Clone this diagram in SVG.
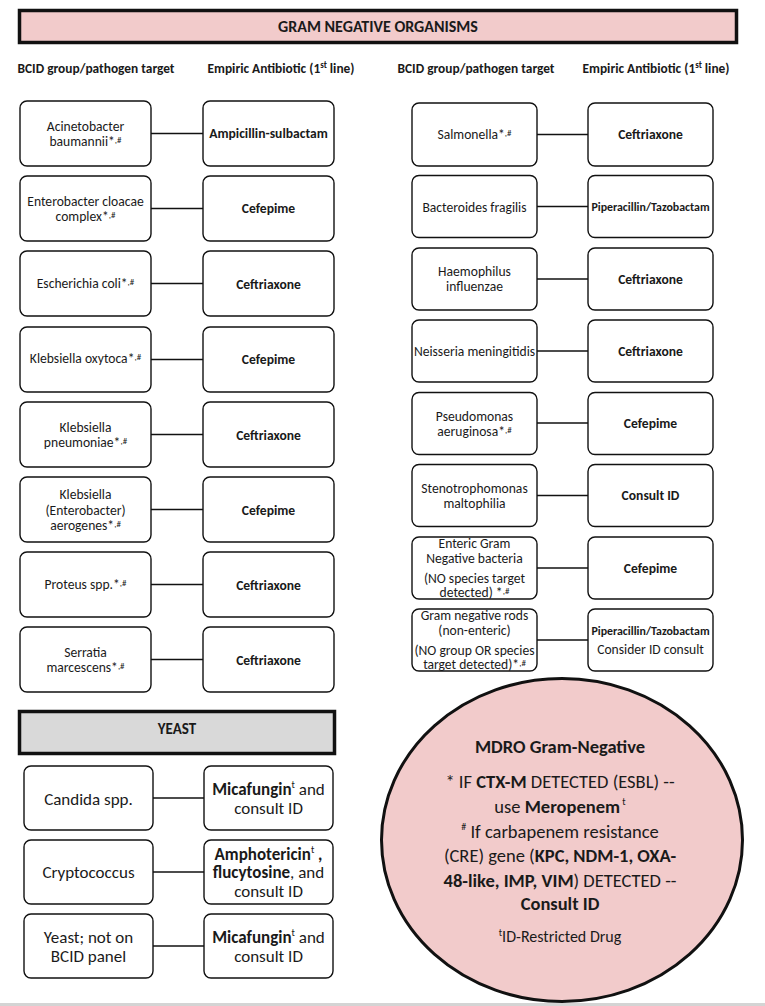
<svg xmlns="http://www.w3.org/2000/svg" width="765" height="1006" viewBox="0 0 765 1006">
<style>
text{font-family:Carlito,Lato,"Liberation Sans",sans-serif;fill:#1a1a1a;text-anchor:middle}
.n{fill:#fff;stroke:#111;stroke-width:1.4}
.t{font-size:13.6px}
.b{font-weight:bold}
.h{font-size:13.4px;font-weight:bold}
.y{font-size:17px}
.c{font-size:18.5px}
.s{font-size:9px}
.conn line{stroke:#111;stroke-width:1.4}
</style>
<rect x="0" y="0" width="765" height="1006" fill="#fff"/>
<rect x="0" y="1003" width="765" height="3" fill="#d4d4d4"/>

<g id="header">
<rect x="19.5" y="10.5" width="717" height="32" fill="#f2cbcb" stroke="#111" stroke-width="3.5"/>
<text x="378" y="32" class="b" font-size="16px">GRAM NEGATIVE ORGANISMS</text>
</g>
<g id="col-headers">
<text x="96" y="73" class="h">BCID group/pathogen target</text>
<text x="281" y="73" class="h">Empiric Antibiotic (1<tspan dy="-5" font-size="9">st</tspan><tspan dy="5"> line)</tspan></text>
<text x="476" y="73" class="h">BCID group/pathogen target</text>
<text x="656" y="73" class="h">Empiric Antibiotic (1<tspan dy="-5" font-size="9">st</tspan><tspan dy="5"> line)</tspan></text>
</g>

<g class="conn" id="connectors">
<line x1="151" y1="133.5" x2="203" y2="133.5"/>
<line x1="151" y1="208.5" x2="203" y2="208.5"/>
<line x1="151" y1="283.5" x2="203" y2="283.5"/>
<line x1="151" y1="359.5" x2="203" y2="359.5"/>
<line x1="151" y1="434.5" x2="203" y2="434.5"/>
<line x1="151" y1="509.5" x2="203" y2="509.5"/>
<line x1="151" y1="584.5" x2="203" y2="584.5"/>
<line x1="151" y1="659.5" x2="203" y2="659.5"/>
<line x1="537" y1="134.5" x2="588" y2="134.5"/>
<line x1="537" y1="206.5" x2="588" y2="206.5"/>
<line x1="537" y1="279" x2="588" y2="279"/>
<line x1="537" y1="351" x2="588" y2="351"/>
<line x1="537" y1="423" x2="588" y2="423"/>
<line x1="537" y1="495.5" x2="588" y2="495.5"/>
<line x1="537" y1="568" x2="588" y2="568"/>
<line x1="537" y1="640" x2="588" y2="640"/>
<line x1="153" y1="798" x2="204" y2="798"/>
<line x1="153" y1="872" x2="204" y2="872"/>
<line x1="153" y1="946" x2="204" y2="946"/>
</g>

<!-- Left column -->
<g id="acinetobacter"><rect class="n" x="20" y="101" width="131" height="65" rx="7"/>
<text class="t" x="85.5" y="130.5">Acinetobacter</text>
<text class="t" x="85.5" y="146">baumannii*<tspan class="s" dy="-3">,#</tspan></text></g>
<g id="amp-sulb"><rect class="n" x="203" y="101" width="131" height="65" rx="7"/>
<text class="t b" x="268.5" y="138">Ampicillin-sulbactam</text></g>

<g id="enterobacter"><rect class="n" x="20" y="176" width="131" height="65" rx="7"/>
<text class="t" x="85.5" y="205.5">Enterobacter cloacae</text>
<text class="t" x="85.5" y="221">complex*<tspan class="s" dy="-3">,#</tspan></text></g>
<g id="cefepime-1"><rect class="n" x="203" y="176" width="131" height="65" rx="7"/>
<text class="t b" x="268.5" y="213">Cefepime</text></g>

<g id="ecoli"><rect class="n" x="20" y="251" width="131" height="65" rx="7"/>
<text class="t" x="85.5" y="288">Escherichia coli*<tspan class="s" dy="-3">,#</tspan></text></g>
<g id="ceftriaxone-1"><rect class="n" x="203" y="251" width="131" height="65" rx="7"/>
<text class="t b" x="268.5" y="288.5">Ceftriaxone</text></g>

<g id="k-oxytoca"><rect class="n" x="20" y="327" width="131" height="65" rx="7"/>
<text class="t" x="85.5" y="363">Klebsiella oxytoca*<tspan class="s" dy="-3">,#</tspan></text></g>
<g id="cefepime-2"><rect class="n" x="203" y="327" width="131" height="65" rx="7"/>
<text class="t b" x="268.5" y="364">Cefepime</text></g>

<g id="k-pneumoniae"><rect class="n" x="20" y="402" width="131" height="65" rx="7"/>
<text class="t" x="85.5" y="431.5">Klebsiella</text>
<text class="t" x="85.5" y="447">pneumoniae*<tspan class="s" dy="-3">,#</tspan></text></g>
<g id="ceftriaxone-2"><rect class="n" x="203" y="402" width="131" height="65" rx="7"/>
<text class="t b" x="268.5" y="439.5">Ceftriaxone</text></g>

<g id="k-aerogenes"><rect class="n" x="20" y="477" width="131" height="65" rx="7"/>
<text class="t" x="85.5" y="498.5">Klebsiella</text>
<text class="t" x="85.5" y="514.5">(Enterobacter)</text>
<text class="t" x="85.5" y="530">aerogenes*<tspan class="s" dy="-3">,#</tspan></text></g>
<g id="cefepime-3"><rect class="n" x="203" y="477" width="131" height="65" rx="7"/>
<text class="t b" x="268.5" y="514.5">Cefepime</text></g>

<g id="proteus"><rect class="n" x="20" y="552" width="131" height="65" rx="7"/>
<text class="t" x="85.5" y="589">Proteus spp.*<tspan class="s" dy="-3">,#</tspan></text></g>
<g id="ceftriaxone-3"><rect class="n" x="203" y="552" width="131" height="65" rx="7"/>
<text class="t b" x="268.5" y="589.5">Ceftriaxone</text></g>

<g id="serratia"><rect class="n" x="20" y="627" width="131" height="65" rx="7"/>
<text class="t" x="85.5" y="656.5">Serratia</text>
<text class="t" x="85.5" y="671.5">marcescens*<tspan class="s" dy="-3">,#</tspan></text></g>
<g id="ceftriaxone-4"><rect class="n" x="203" y="627" width="131" height="65" rx="7"/>
<text class="t b" x="268.5" y="664.5">Ceftriaxone</text></g>

<!-- Right column -->
<g id="salmonella"><rect class="n" x="412" y="103" width="125" height="63" rx="7"/>
<text class="t" x="474.5" y="138.5">Salmonella*<tspan class="s" dy="-3">,#</tspan></text></g>
<g id="ceftriaxone-5"><rect class="n" x="588" y="103" width="125" height="63" rx="7"/>
<text class="t b" x="650.5" y="139">Ceftriaxone</text></g>

<g id="bacteroides"><rect class="n" x="412" y="175.5" width="125" height="62" rx="7"/>
<text class="t" x="474.5" y="211.5">Bacteroides fragilis</text></g>
<g id="pip-tazo-1"><rect class="n" x="588" y="175.5" width="125" height="62" rx="7"/>
<text class="b" font-size="11.9px" x="650.5" y="211">Piperacillin/Tazobactam</text></g>

<g id="haemophilus"><rect class="n" x="412" y="248" width="125" height="62" rx="7"/>
<text class="t" x="474.5" y="276">Haemophilus</text>
<text class="t" x="474.5" y="291">influenzae</text></g>
<g id="ceftriaxone-6"><rect class="n" x="588" y="248" width="125" height="62" rx="7"/>
<text class="t b" x="650.5" y="284">Ceftriaxone</text></g>

<g id="neisseria"><rect class="n" x="412" y="320" width="125" height="62" rx="7"/>
<text class="t" font-size="13.1px" x="474.5" y="355.5">Neisseria meningitidis</text></g>
<g id="ceftriaxone-7"><rect class="n" x="588" y="320" width="125" height="62" rx="7"/>
<text class="t b" x="650.5" y="356">Ceftriaxone</text></g>

<g id="pseudomonas"><rect class="n" x="412" y="392.5" width="125" height="62" rx="7"/>
<text class="t" x="474.5" y="421">Pseudomonas</text>
<text class="t" x="474.5" y="435.5">aeruginosa*<tspan class="s" dy="-3">,#</tspan></text></g>
<g id="cefepime-4"><rect class="n" x="588" y="392.5" width="125" height="62" rx="7"/>
<text class="t b" x="650.5" y="428">Cefepime</text></g>

<g id="stenotrophomonas"><rect class="n" x="412" y="464.5" width="125" height="62" rx="7"/>
<text class="t" x="474.5" y="492.5">Stenotrophomonas</text>
<text class="t" x="474.5" y="507.5">maltophilia</text></g>
<g id="consult-id"><rect class="n" x="588" y="464.5" width="125" height="62" rx="7"/>
<text class="t b" x="650.5" y="500">Consult ID</text></g>

<g id="enteric-gn"><rect class="n" x="412" y="537" width="125" height="62" rx="7"/>
<text class="t" x="474.5" y="548">Enteric Gram</text>
<text class="t" x="474.5" y="563">Negative bacteria</text>
<text class="t" x="474.5" y="583">(NO species target</text>
<text class="t" x="474.5" y="596.5">detected) *<tspan class="s" dy="-3">,#</tspan></text></g>
<g id="cefepime-5"><rect class="n" x="588" y="537" width="125" height="62" rx="7"/>
<text class="t b" x="650.5" y="572.5">Cefepime</text></g>

<g id="gnr-nonenteric"><rect class="n" x="412" y="609" width="125" height="62" rx="7"/>
<text class="t" x="474.5" y="620">Gram negative rods</text>
<text class="t" x="474.5" y="635">(non-enteric)</text>
<text class="t" x="474.5" y="655">(NO group OR species</text>
<text class="t" x="474.5" y="669">target detected)*<tspan class="s" dy="-3">,#</tspan></text></g>
<g id="pip-tazo-2"><rect class="n" x="588" y="609" width="125" height="62" rx="7"/>
<text class="b" font-size="11.9px" x="650.5" y="634.5">Piperacillin/Tazobactam</text>
<text class="t" x="650.5" y="653.5">Consider ID consult</text></g>

<!-- Yeast -->
<g id="yeast-header">
<rect x="19.5" y="711.5" width="315" height="42" fill="#d9d9d9" stroke="#111" stroke-width="3.5"/>
<text class="b" font-size="15px" x="177" y="734">YEAST</text>
</g>

<g id="candida"><rect class="n" x="24" y="766" width="129" height="64" rx="7"/>
<text class="y" x="88.5" y="804.5">Candida spp.</text></g>
<g id="micafungin-1"><rect class="n" x="204" y="766" width="129" height="64" rx="7"/>
<text class="y" x="268.5" y="794.5"><tspan class="b">Micafungin</tspan><tspan font-size="10px" dy="-7">t</tspan><tspan dy="7">  and</tspan></text>
<text class="y" x="268.5" y="813.5">consult ID</text></g>

<g id="cryptococcus"><rect class="n" x="24" y="840" width="129" height="64" rx="7"/>
<text class="y" x="88.5" y="878">Cryptococcus</text></g>
<g id="amphotericin"><rect class="n" x="204" y="840" width="129" height="64" rx="7"/>
<text class="y" x="268.5" y="859.5"><tspan class="b">Amphotericin</tspan><tspan font-size="10px" dy="-7">t</tspan><tspan class="b" dy="7"> ,</tspan></text>
<text class="y" x="268.5" y="878"><tspan class="b">flucytosine</tspan>, and</text>
<text class="y" x="268.5" y="897">consult ID</text></g>

<g id="yeast-other"><rect class="n" x="24" y="914" width="129" height="64" rx="7"/>
<text class="y" x="88.5" y="943">Yeast; not on</text>
<text class="y" x="88.5" y="962">BCID panel</text></g>
<g id="micafungin-2"><rect class="n" x="204" y="914" width="129" height="64" rx="7"/>
<text class="y" x="268.5" y="943"><tspan class="b">Micafungin</tspan><tspan font-size="10px" dy="-7">t</tspan><tspan dy="7">  and</tspan></text>
<text class="y" x="268.5" y="962">consult ID</text></g>

<!-- MDRO circle -->
<g id="mdro">
<ellipse cx="562" cy="840" rx="180.5" ry="161.5" fill="#f2cbcb" stroke="#111" stroke-width="3"/>
<text class="c b" x="560" y="753">MDRO Gram-Negative</text>
<text class="c" x="560" y="788">* IF <tspan class="b">CTX-M</tspan> DETECTED (ESBL) --</text>
<text class="c" x="560" y="813">use <tspan class="b">Meropenem</tspan><tspan font-size="10px" dy="-8"> t</tspan></text>
<text class="c" x="560" y="837.5"><tspan font-size="10px" dy="-8">#</tspan><tspan dy="8"> If carbapenem resistance</tspan></text>
<text class="c" x="560" y="862">(CRE) gene (<tspan class="b">KPC, NDM-1, OXA-</tspan></text>
<text class="c" x="560" y="886.5"><tspan class="b">48-like, IMP, VIM</tspan>) DETECTED --</text>
<text class="c b" x="560" y="909.5">Consult ID</text>
<text font-size="16px" x="560" y="942"><tspan font-size="10px" dy="-6">t</tspan><tspan dy="6">ID-Restricted Drug</tspan></text>
</g>
</svg>
